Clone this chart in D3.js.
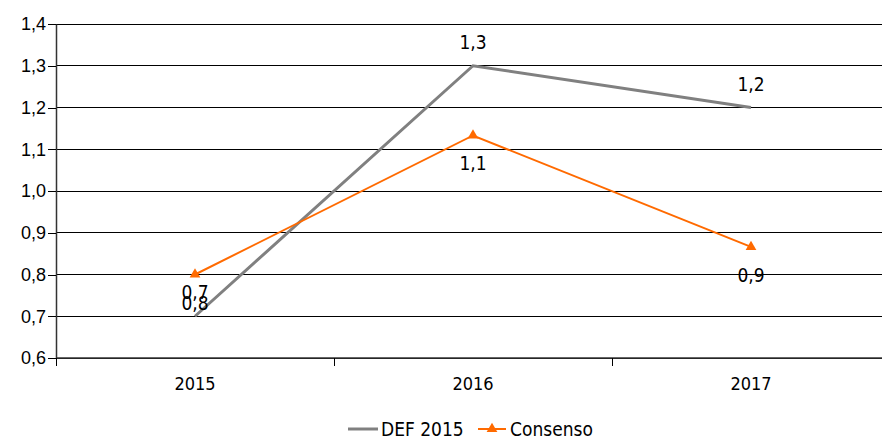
<!DOCTYPE html>
<html>
<head>
<meta charset="utf-8">
<script src="https://cdn.jsdelivr.net/npm/d3@7"></script>
<style>
  body { margin: 0; background: #fff; }
  svg { display: block; font-family: "Liberation Sans Narrow", "DejaVu Sans Condensed", "Liberation Sans", sans-serif; font-stretch: condensed; }
</style>
</head>
<body>
<svg id="chart" width="882" height="441"></svg>
<script>
var years = ['2015', '2016', '2017']
var defValues = [0.7, 1.3, 1.2]
var consensoValues = [0.8, 1.133, 0.866]
var yTicks = [0.6, 0.7, 0.8, 0.9, 1.0, 1.1, 1.2, 1.3, 1.4]

var svg = d3.select('#chart')
var mLeft = 56, mRight = 890, mTop = 24, mBottom = 358

var x = d3.scaleBand().domain(years).range([mLeft, mRight])
var y = d3.scaleLinear().domain([0.6, 1.4]).range([mBottom, mTop])
var fmt = d => d3.format('.1f')(d).replace('.', ',')

// horizontal grid
svg.append('g')
  .selectAll('line').data(yTicks).join('line')
  .attr('x1', mLeft).attr('x2', mRight)
  .attr('y1', d => y(d)).attr('y2', d => y(d))
  .attr('stroke', '#000').attr('stroke-width', 1)
  .attr('shape-rendering', 'crispEdges')

// y axis
var yAxis = svg.append('g')
  .attr('transform', `translate(${mLeft},0)`)
  .call(d3.axisLeft(y).tickValues(yTicks).tickFormat(fmt).tickSize(8).tickSizeOuter(0))
yAxis.select('.domain').attr('stroke', '#333').attr('stroke-width', 1.5)
yAxis.selectAll('line').attr('shape-rendering', 'crispEdges')
yAxis.selectAll('text').attr('font-size', 18).attr('fill', '#000').attr('x', -10)

// x axis with category boundary ticks
var xAxisG = svg.append('g').attr('transform', `translate(0,${mBottom})`)
xAxisG.append('line').attr('x1', mLeft).attr('x2', mRight)
  .attr('stroke', '#333').attr('stroke-width', 1.5)
xAxisG.selectAll('.bt').data(years).join('line').attr('class', 'bt')
  .attr('x1', d => x(d)).attr('x2', d => x(d)).attr('y1', 0).attr('y2', 8)
  .attr('stroke', '#000').attr('shape-rendering', 'crispEdges')
xAxisG.selectAll('text').data(years).join('text')
  .attr('x', d => x(d) + x.bandwidth() / 2).attr('y', 32)
  .attr('text-anchor', 'middle').attr('font-size', 18).text(d => d)

var cx = d => x(d) + x.bandwidth() / 2
var line = d3.line().x((d, i) => cx(years[i])).y(d => y(d))

// DEF 2015 series
svg.append('path').datum(defValues)
  .attr('d', line).attr('fill', 'none')
  .attr('stroke', '#808080').attr('stroke-width', 3)

// Consenso series
svg.append('path').datum(consensoValues)
  .attr('d', line).attr('fill', 'none')
  .attr('stroke', '#ff6a00').attr('stroke-width', 2)

var tri = d3.symbol().type(d3.symbolTriangle).size(50)
svg.selectAll('.mk').data(consensoValues).join('path').attr('class', 'mk')
  .attr('d', tri)
  .attr('transform', (d, i) => `translate(${cx(years[i])},${y(d)})`)
  .attr('fill', '#ff6a00')

// data labels
svg.selectAll('.ldef').data(defValues).join('text').attr('class', 'ldef')
  .attr('x', (d, i) => cx(years[i])).attr('y', d => y(d) - 17)
  .attr('text-anchor', 'middle').attr('font-size', 19).text(fmt)

svg.selectAll('.lcon').data(consensoValues).join('text').attr('class', 'lcon')
  .attr('x', (d, i) => cx(years[i])).attr('y', d => y(d) + 35)
  .attr('text-anchor', 'middle').attr('font-size', 19).text(fmt)

// legend
var lg = svg.append('g').attr('transform', 'translate(348,429)')
lg.append('line').attr('x1', 0).attr('x2', 30).attr('stroke', '#808080').attr('stroke-width', 3)
lg.append('text').attr('x', 33).attr('y', 7).attr('font-size', 19).text('DEF 2015')
lg.append('line').attr('x1', 130).attr('x2', 158).attr('stroke', '#ff6a00').attr('stroke-width', 2)
lg.append('path').attr('d', tri).attr('transform', 'translate(144,0)').attr('fill', '#ff6a00')
lg.append('text').attr('x', 162).attr('y', 7).attr('font-size', 19).text('Consenso')
</script>
</body>
</html>
